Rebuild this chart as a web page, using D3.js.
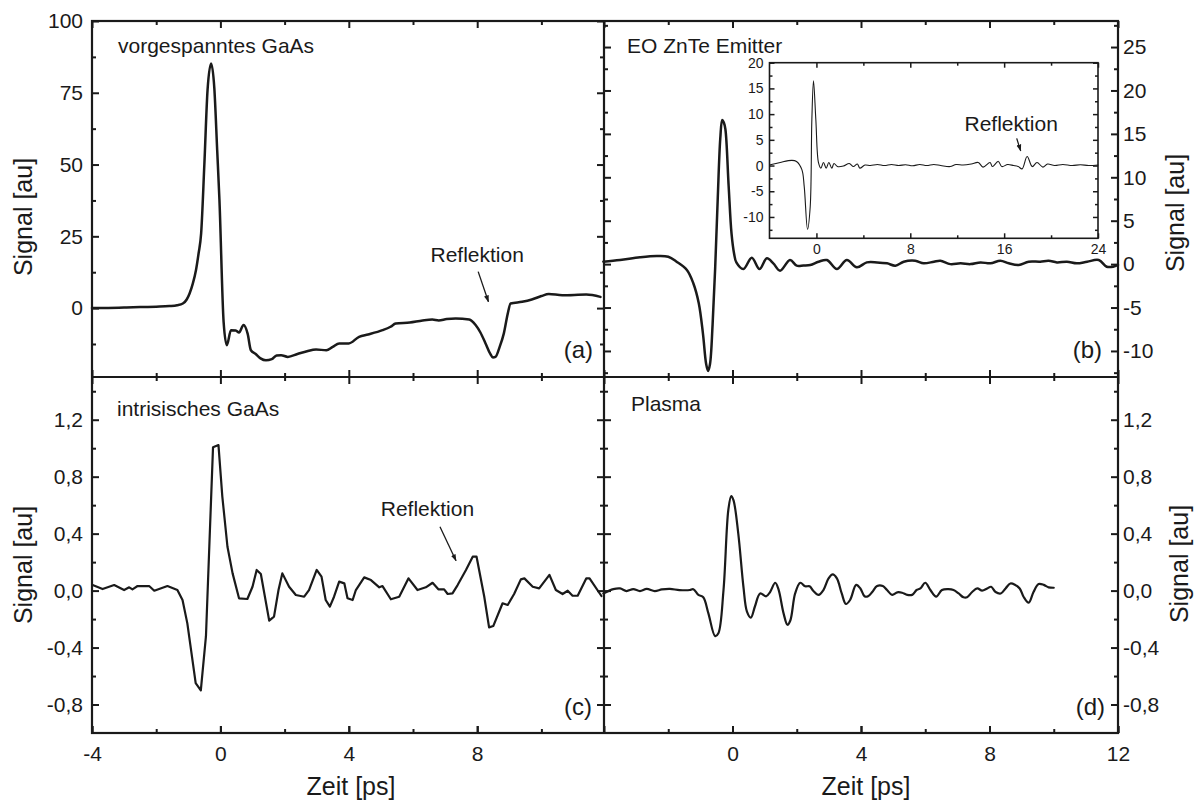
<!DOCTYPE html>
<html><head><meta charset="utf-8">
<script src="https://cdn.jsdelivr.net/npm/d3@7"></script>
<style>
body{margin:0;background:#fff}
svg{display:block}
</style>
</head><body>
<svg id="chart" width="1197" height="802"></svg>
<script>
// ---------------- DATA (time in ps, signal in au) ----------------
const seriesA = [[-4,0],[-3.5,0.05],[-3,0.2],[-2.5,0.35],[-2,0.5],[-1.59,0.7],[-1.35,1.0],[-1.17,1.6],[-1.05,3.0],[-0.96,5.1],[-0.86,8.5],[-0.76,13.3],[-0.68,19],[-0.6,26],[-0.5,50],[-0.4,76],[-0.29,85.2],[-0.19,76.7],[-0.1,55],[-0.03,37.7],[0.1,-4.8],[0.2,-12.9],[0.33,-7.7],[0.48,-7.8],[0.58,-8.5],[0.72,-5.9],[0.85,-9],[0.95,-14.7],[1.1,-16],[1.25,-17.5],[1.42,-18.2],[1.6,-17.8],[1.75,-16.5],[1.89,-16.4],[2.1,-17],[2.4,-16],[2.7,-15],[2.98,-14.4],[3.3,-14.7],[3.5,-13.5],[3.7,-12.3],[4.0,-12.3],[4.32,-10],[4.6,-9.2],[5.05,-7.7],[5.3,-6.5],[5.46,-5.4],[5.9,-5],[6.3,-4.3],[6.6,-4],[6.8,-4.3],[7.05,-3.8],[7.33,-3.6],[7.75,-4],[7.95,-5.9],[8.1,-8.5],[8.26,-12.3],[8.4,-15.8],[8.49,-17.2],[8.57,-17],[8.7,-13.5],[8.83,-8.8],[8.95,-2],[9.04,1.6],[9.4,2.2],[9.7,3],[10.0,4.2],[10.23,4.9],[10.65,4.5],[11.4,4.7],[11.84,3.9]];

const seriesB = [[-4.02,0.28],[-3.5,0.47],[-2.88,0.78],[-2.36,0.93],[-2.0,0.85],[-1.74,0.28],[-1.42,-0.68],[-1.22,-2.2],[-1.05,-4.5],[-0.92,-8],[-0.82,-11.5],[-0.76,-12.3],[-0.7,-11.5],[-0.62,-7],[-0.54,-0.5],[-0.46,7.5],[-0.38,14.5],[-0.32,16.6],[-0.27,16.3],[-0.22,15.5],[-0.12,9],[-0.03,3.5],[0.05,1.2],[0.12,0.2],[0.34,-0.56],[0.6,0.74],[0.84,-0.56],[1.07,0.67],[1.27,0.09],[1.48,-0.76],[1.79,0.47],[2.0,-0.18],[2.21,-0.15],[2.42,-0.1],[2.68,0.28],[2.94,0.47],[3.25,-0.56],[3.56,0.47],[3.87,-0.37],[4.18,0.2],[4.5,0.2],[4.81,0.09],[5.07,-0.18],[5.33,0.28],[5.69,0.39],[5.95,0.09],[6.27,0.28],[6.47,0.39],[6.78,0.0],[7.1,0.09],[7.41,0.0],[7.72,0.2],[8.03,0.09],[8.34,0.39],[8.6,0.09],[8.91,-0.1],[9.22,0.28],[9.58,0.28],[9.84,0.39],[10.1,0.2],[10.41,0.28],[10.72,0.09],[11.04,0.28],[11.4,0.47],[11.65,-0.3],[11.85,-0.3],[12.0,-0.1]];

const seriesInset = [[-3.94,0.14],[-3.09,0.6],[-2.1,1.0],[-1.7,0.8],[-1.24,-0.8],[-1.04,-4.1],[-0.76,-12.4],[-0.53,-8],[-0.39,8.9],[-0.25,16.5],[-0.05,8.9],[0.18,0.5],[0.38,-0.5],[0.6,0.6],[0.83,-0.5],[1.06,0.6],[1.31,-0.5],[1.5,0.4],[1.79,-0.2],[2.3,-0.1],[2.8,0.4],[3.15,-0.2],[3.49,0.3],[3.7,-0.5],[4.14,0.1],[4.6,0.0],[5.2,0.2],[5.8,0.0],[6.4,0.2],[7.0,0.0],[7.6,0.15],[8.2,-0.05],[8.8,0.2],[9.4,0.0],[10.0,0.2],[10.6,0.0],[11.4,-0.2],[11.9,0.2],[12.5,0.1],[13.2,0.3],[13.8,0.6],[14.2,-0.3],[14.8,0.6],[15.0,-0.2],[15.5,0.8],[15.8,-0.2],[16.3,0.2],[16.8,0.0],[17.2,-0.2],[17.53,-0.65],[17.96,1.75],[18.4,-0.2],[18.8,0.6],[19.3,-0.3],[19.7,0.3],[20.3,0.0],[21,0.2],[21.8,0.0],[22.5,0.15],[23.2,0.0],[24,0.1]];

const seriesC = [[-3.98,0.039],[-3.67,0.011],[-3.31,0.039],[-3.0,0.004],[-2.84,0.023],[-2.74,0.009],[-2.58,0.032],[-2.22,0.032],[-2.06,-0.001],[-1.65,0.032],[-1.34,0.004],[-1.18,-0.066],[-1.03,-0.23],[-0.77,-0.65],[-0.61,-0.70],[-0.45,-0.32],[-0.23,1.006],[-0.06,1.022],[0.06,0.66],[0.22,0.308],[0.38,0.121],[0.58,-0.054],[0.84,-0.059],[1.0,0.027],[1.13,0.145],[1.26,0.117],[1.52,-0.211],[1.67,-0.183],[1.81,0.004],[1.93,0.121],[2.14,0.027],[2.35,-0.031],[2.61,-0.043],[2.76,0.004],[3.0,0.145],[3.15,0.098],[3.28,-0.066],[3.41,-0.113],[3.54,-0.043],[3.7,0.063],[3.86,0.051],[3.96,-0.054],[4.12,-0.066],[4.22,0.004],[4.48,0.093],[4.69,0.074],[4.95,0.023],[5.05,0.032],[5.31,-0.061],[5.57,-0.043],[5.86,0.086],[6.14,0.004],[6.4,0.023],[6.61,0.055],[6.79,0.009],[6.97,0.009],[7.08,-0.024],[7.23,-0.019],[7.39,0.039],[7.65,0.145],[7.86,0.238],[7.98,0.238],[8.22,-0.043],[8.37,-0.258],[8.5,-0.249],[8.79,-0.089],[8.95,-0.101],[9.15,-0.024],[9.36,0.079],[9.47,0.086],[9.73,0.027],[9.93,0.016],[10.25,0.11],[10.45,0.004],[10.66,-0.024],[10.82,-0.001],[10.97,-0.036],[11.13,-0.036],[11.4,0.086],[11.5,0.086],[11.87,-0.038]];

const seriesD = [[-4.02,-0.02],[-3.71,0.01],[-3.5,0.015],[-3.3,-0.003],[-3.09,0.01],[-2.88,-0.003],[-2.67,0.012],[-2.42,-0.003],[-2.2,0.008],[-1.95,0.012],[-1.65,0.004],[-1.33,0.004],[-1.22,0.01],[-1.06,-0.03],[-0.91,-0.047],[-0.75,-0.16],[-0.54,-0.32],[-0.44,-0.3],[-0.28,0.004],[-0.13,0.566],[-0.04,0.664],[0.03,0.636],[0.18,0.40],[0.34,0.027],[0.45,-0.148],[0.57,-0.19],[0.7,-0.11],[0.86,-0.02],[1.05,-0.04],[1.17,-0.01],[1.33,0.055],[1.43,0.01],[1.59,-0.16],[1.71,-0.24],[1.8,-0.21],[1.95,-0.02],[2.11,0.055],[2.26,0.03],[2.4,0.03],[2.52,-0.003],[2.68,-0.03],[2.83,0.004],[2.99,0.086],[3.12,0.114],[3.25,0.086],[3.4,-0.02],[3.53,-0.094],[3.66,-0.066],[3.85,0.04],[3.98,0.015],[4.11,-0.04],[4.22,-0.04],[4.35,-0.01],[4.5,0.032],[4.68,0.032],[4.81,0.004],[4.97,-0.03],[5.13,-0.012],[5.28,-0.015],[5.44,-0.03],[5.59,-0.03],[5.73,0.004],[5.85,0.015],[6.0,0.055],[6.16,0.004],[6.34,-0.043],[6.52,0.004],[6.72,0.01],[6.88,0.004],[7.04,-0.02],[7.19,-0.047],[7.3,-0.047],[7.46,-0.01],[7.62,0.015],[7.77,0.0],[7.93,0.015],[8.05,0.027],[8.19,-0.01],[8.35,-0.02],[8.5,0.015],[8.65,0.05],[8.8,0.04],[8.94,0.015],[9.06,-0.043],[9.22,-0.085],[9.37,-0.01],[9.53,0.046],[9.69,0.04],[9.84,0.023],[10.0,0.02]];

// tick values
const xTicksLeftLabeled = [-4, 0, 4, 8];
const xTicksRightLabeled = [0, 4, 8, 12];
const xTicksMajor = [-4, 0, 4, 8, 12];
const xTicksMinor = [-2, 2, 6, 10];
const yTicksA = [0, 25, 50, 75, 100];
const yMinorA = [-12.5, 12.5, 37.5, 62.5, 87.5];
const yTicksB = [-10, -5, 0, 5, 10, 15, 20, 25];
const yMinorB = [-12.5, -7.5, -2.5, 2.5, 7.5, 12.5, 17.5, 22.5, 27.5];
const yTicksCD = [-0.8, -0.4, 0, 0.4, 0.8, 1.2];
const yMinorCD = [-0.6, -0.2, 0.2, 0.6, 1.0, 1.4];
const xTicksInset = [0, 8, 16, 24];
const xMinorInset = [4, 12, 20];
const yTicksInset = [-10, -5, 0, 5, 10, 15, 20];
const yMinorInset = [-12.5, -7.5, -2.5, 2.5, 7.5, 12.5, 17.5];

// annotations (data coordinates)
const panelTitles = ["vorgespanntes GaAs", "EO ZnTe Emitter", "intrisisches GaAs", "Plasma"];
const panelLetters = ["(a)", "(b)", "(c)", "(d)"];
const reflA = {label:[8.0, 16.2], from:[8.03, 12.7], to:[8.35, 2.2]};
const reflC = {label:[6.45, 0.524], from:[6.84, 0.449], to:[7.34, 0.21]};
const reflInset = {label:[16.6, 6.7], from:[17.07, 5.28], to:[17.41, 2.86]};

// ---------------- LAYOUT ----------------
const FONT = 'Arial, "Liberation Sans", Helvetica, sans-serif';
const INK = '#1a1a1a';
const L = 92, M = 604, R = 1118, T = 21, MID = 377, B = 733;

const svg = d3.select('#chart');
svg.append('rect').attr('width',1197).attr('height',802).attr('fill','#fff');

const xL = d3.scaleLinear().domain([-4, 11.95]).range([L, M]);
const xR = d3.scaleLinear().domain([-4, 12]).range([M, R]);
const yA = d3.scaleLinear().domain([-24, 100]).range([MID, T]);
const yB = d3.scaleLinear().domain([-13, 28]).range([MID, T]);
const yC = d3.scaleLinear().domain([-1, 1.5]).range([B, MID]);
const yD = yC.copy();

const IL = 769.5, IR = 1098, IT = 62.7, IB = 238.3;
const xI = d3.scaleLinear().domain([-4, 24]).range([IL, IR]);
const yI = d3.scaleLinear().domain([-14.15, 20]).range([IB, IT]);

svg.append('defs').append('marker')
  .attr('id','arrow').attr('viewBox','0 0 10 10').attr('refX',9).attr('refY',5)
  .attr('markerWidth',7).attr('markerHeight',9).attr('markerUnits','userSpaceOnUse')
  .attr('orient','auto')
  .append('path').attr('d','M0,1.5 L10,5 L0,8.5 Z').attr('fill',INK);

function addAxis(gen, tx, ty, ticks, len, fmt, pad, fs, sw) {
  const g = svg.append('g').attr('transform', `translate(${tx},${ty})`);
  gen.tickValues(ticks).tickSizeInner(-len).tickSizeOuter(0).tickPadding(pad)
     .tickFormat(fmt || (() => ''));
  g.call(gen);
  g.select('.domain').remove();
  g.attr('font-family', FONT).attr('font-size', fs);
  g.selectAll('line').attr('stroke', INK).attr('stroke-width', sw || 2);
  g.selectAll('text').attr('fill', INK);
  return g;
}
const fmtInt = d => String(d);
const fmtComma = d => (d < 0 ? '-' : '') + Math.abs(d).toFixed(1).replace('.', ',');

const MAJ = 7, MIN = 4, FS = 21;

// ---- x axes (top edge, middle line, bottom edge) ----
[[xL, xTicksLeftLabeled], [xR, xTicksRightLabeled]].forEach(([xs, lab]) => {
  const maj = xTicksMajor.filter(v => v >= xs.domain()[0] && v <= xs.domain()[1]);
  // top edge
  addAxis(d3.axisTop(xs), 0, T, maj, MAJ);
  addAxis(d3.axisTop(xs), 0, T, xTicksMinor, MIN);
  // middle line: ticks up (upper panels) and down (lower panels)
  addAxis(d3.axisBottom(xs), 0, MID, maj, MAJ);
  addAxis(d3.axisBottom(xs), 0, MID, xTicksMinor, MIN);
  addAxis(d3.axisTop(xs), 0, MID, maj, MAJ);
  addAxis(d3.axisTop(xs), 0, MID, xTicksMinor, MIN);
  // bottom edge with labels
  addAxis(d3.axisBottom(xs), 0, B, maj, MAJ);
  addAxis(d3.axisBottom(xs), 0, B, lab, MAJ, fmtInt, 13, FS);
  addAxis(d3.axisBottom(xs), 0, B, xTicksMinor, MIN);
});

// ---- y axes ----
// panel a
addAxis(d3.axisLeft(yA), L, 0, yTicksA, MAJ, fmtInt, 9, FS);
addAxis(d3.axisLeft(yA), L, 0, yMinorA, MIN);
addAxis(d3.axisRight(yA), M, 0, yTicksA, MAJ);
addAxis(d3.axisRight(yA), M, 0, yMinorA, MIN);
// panel b
addAxis(d3.axisLeft(yB), M, 0, yTicksB, MAJ);
addAxis(d3.axisLeft(yB), M, 0, yMinorB, MIN);
addAxis(d3.axisRight(yB), R, 0, yTicksB, MAJ, fmtInt, 5, FS);
addAxis(d3.axisRight(yB), R, 0, yMinorB, MIN);
// panel c
addAxis(d3.axisLeft(yC), L, 0, yTicksCD, MAJ, fmtComma, 9, FS);
addAxis(d3.axisLeft(yC), L, 0, yMinorCD, MIN);
addAxis(d3.axisRight(yC), M, 0, yTicksCD, MAJ);
addAxis(d3.axisRight(yC), M, 0, yMinorCD, MIN);
// panel d
addAxis(d3.axisLeft(yD), M, 0, yTicksCD, MAJ);
addAxis(d3.axisLeft(yD), M, 0, yMinorCD, MIN);
addAxis(d3.axisRight(yD), R, 0, yTicksCD, MAJ, fmtComma, 5, FS);
addAxis(d3.axisRight(yD), R, 0, yMinorCD, MIN);

// ---- frame ----
const frame = svg.append('g').attr('stroke', INK).attr('stroke-width', 2.2).attr('fill', 'none');
frame.append('rect').attr('x', L).attr('y', T).attr('width', R - L).attr('height', B - T);
frame.append('line').attr('x1', M).attr('x2', M).attr('y1', T).attr('y2', B);
frame.append('line').attr('x1', L).attr('x2', R).attr('y1', MID).attr('y2', MID);

// ---- curves ----
function drawLine(data, xs, ys, curve, w) {
  svg.append('path').datum(data)
    .attr('d', d3.line().x(d => xs(d[0])).y(d => ys(d[1])).curve(curve))
    .attr('fill', 'none').attr('stroke', INK).attr('stroke-width', w)
    .attr('stroke-linejoin', 'round').attr('stroke-linecap', 'round');
}
drawLine(seriesA, xL, yA, d3.curveMonotoneX, 2.5);
drawLine(seriesB, xR, yB, d3.curveCatmullRom.alpha(0.5), 2.5);
drawLine(seriesC, xL, yC, d3.curveLinear, 2.2);
drawLine(seriesD, xR, yD, d3.curveCatmullRom.alpha(0.5), 2.2);

// ---- inset ----
svg.append('rect').attr('x', IL).attr('y', IT).attr('width', IR - IL).attr('height', IB - IT)
  .attr('fill', '#fff');
const FSI = 14;
addAxis(d3.axisLeft(yI), IL, 0, yTicksInset, 5, fmtInt, 6, FSI, 1.5);
addAxis(d3.axisLeft(yI), IL, 0, yMinorInset, 3, null, 6, FSI, 1.5);
addAxis(d3.axisRight(yI), IR, 0, yTicksInset, 5, null, 6, FSI, 1.5);
addAxis(d3.axisRight(yI), IR, 0, yMinorInset, 3, null, 6, FSI, 1.5);
addAxis(d3.axisBottom(xI), 0, IB, xTicksInset, 5, fmtInt, 6, FSI, 1.5);
addAxis(d3.axisBottom(xI), 0, IB, xMinorInset, 3, null, 6, FSI, 1.5);
addAxis(d3.axisTop(xI), 0, IT, xTicksInset, 5, null, 6, FSI, 1.5);
addAxis(d3.axisTop(xI), 0, IT, xMinorInset, 3, null, 6, FSI, 1.5);
svg.append('rect').attr('x', IL).attr('y', IT).attr('width', IR - IL).attr('height', IB - IT)
  .attr('fill', 'none').attr('stroke', INK).attr('stroke-width', 1.6);
drawLine(seriesInset, xI, yI, d3.curveCatmullRom.alpha(0.5), 1.1);

// ---- text ----
function txt(x, y, s, size, anchor) {
  return svg.append('text').attr('x', x).attr('y', y).text(s)
    .attr('font-family', FONT).attr('font-size', size).attr('fill', INK)
    .attr('text-anchor', anchor || 'start');
}
txt(L + 26, 53, panelTitles[0], 21);
txt(M + 23, 53, panelTitles[1], 21);
txt(L + 25, 416, panelTitles[2], 21);
txt(M + 27, 411, panelTitles[3], 21);
txt(M - 11, 358, panelLetters[0], 24, 'end');
txt(R - 16, 358, panelLetters[1], 24, 'end');
txt(M - 12, 715, panelLetters[2], 24, 'end');
txt(R - 13, 715, panelLetters[3], 24, 'end');

function annotate(a, xs, ys, size, w) {
  txt(xs(a.label[0]), ys(a.label[1]), 'Reflektion', size, 'middle');
  svg.append('line').attr('x1', xs(a.from[0])).attr('y1', ys(a.from[1]))
    .attr('x2', xs(a.to[0])).attr('y2', ys(a.to[1]))
    .attr('stroke', INK).attr('stroke-width', w).attr('marker-end', 'url(#arrow)');
}
annotate(reflA, xL, yA, 21, 1.3);
annotate(reflC, xL, yC, 21, 1.3);
annotate(reflInset, xI, yI, 21, 1.3);

// axis titles
function vtitle(x, y, s) {
  svg.append('text').attr('transform', `translate(${x},${y}) rotate(-90)`)
    .attr('text-anchor', 'middle').attr('font-family', FONT).attr('font-size', 25)
    .attr('fill', INK).text(s);
}
vtitle(32, 217, 'Signal [au]');
vtitle(32, 565, 'Signal [au]');
vtitle(1184, 213, 'Signal [au]');
vtitle(1188, 564, 'Signal [au]');
txt((L + M) / 2 + 3, 795, 'Zeit [ps]', 25, 'middle');
txt((M + R) / 2 + 5, 795, 'Zeit [ps]', 25, 'middle');
</script>
</body></html>
